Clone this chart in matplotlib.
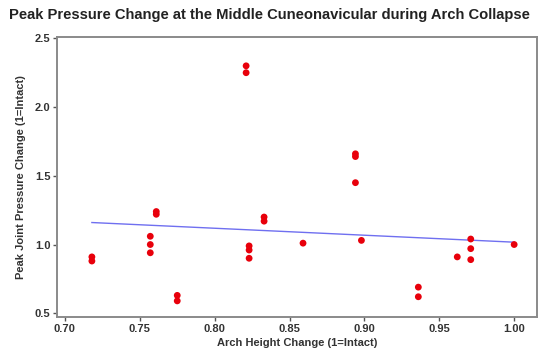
import matplotlib
matplotlib.use("Agg")
import matplotlib.pyplot as plt

# arch height change vs peak joint pressure change
arch_height = [0.718, 0.718,
               0.757, 0.757, 0.757,
               0.761, 0.761,
               0.775, 0.775,
               0.821, 0.821,
               0.823, 0.823, 0.823,
               0.833, 0.833,
               0.859,
               0.894, 0.894, 0.894,
               0.898,
               0.936, 0.936,
               0.962,
               0.971, 0.971, 0.971,
               1.000]
peak_pressure = [0.91, 0.88,
                 1.06, 1.00, 0.94,
                 1.24, 1.22,
                 0.63, 0.59,
                 2.30, 2.25,
                 0.99, 0.96, 0.90,
                 1.20, 1.17,
                 1.01,
                 1.66, 1.64, 1.45,
                 1.03,
                 0.69, 0.62,
                 0.91,
                 1.04, 0.97, 0.89,
                 1.00]

# fitted line endpoints
fit_x = [0.718, 1.000]
fit_y = [1.160, 1.017]

x_ticks = [0.70, 0.75, 0.80, 0.85, 0.90, 0.95, 1.00]
y_ticks = [0.5, 1.0, 1.5, 2.0, 2.5]

plt.rcParams["font.family"] = ["Liberation Sans", "DejaVu Sans"]
plt.rcParams["font.weight"] = "bold"

fig = plt.figure(figsize=(5.38, 3.58), dpi=100)
ax = fig.add_axes([0.1065, 0.1154, 0.8915, 0.7821])

ax.plot(fit_x, fit_y, color="#6f6ff0", lw=1.0, zorder=2)
ax.scatter(arch_height, peak_pressure, s=24, color="#e8000b", edgecolors="none", zorder=3)

ax.set_xlim(0.6949, 1.0152)
ax.set_ylim(0.475, 2.512)
ax.set_xticks(x_ticks)
ax.set_xticklabels([f"{v:.2f}" for v in x_ticks])
ax.set_yticks(y_ticks)
ax.set_yticklabels([f"{v:.1f}" for v in y_ticks])

for s in ax.spines.values():
    s.set_color("#8a8a8a")
    s.set_linewidth(1.4)
ax.tick_params(axis="both", direction="out", length=3, width=1, color="#555555",
               labelsize=8, labelcolor="#333333", pad=2)
for lbl in ax.get_xticklabels() + ax.get_yticklabels():
    lbl.set_fontweight("bold")

ax.set_xlabel("Arch Height Change (1=Intact)", fontsize=8, fontweight="bold",
              color="#333333", labelpad=3)
ax.set_ylabel("Peak Joint Pressure Change (1=Intact)", fontsize=8, fontweight="bold",
              color="#333333", labelpad=6)

fig.text(9 / 538, 1 - 15 / 358, "Peak Pressure Change at the Middle Cuneonavicular during Arch Collapse",
         fontsize=10.6, fontweight="bold", color="#222222", ha="left", va="center")

fig.savefig("out.png", dpi=100)
